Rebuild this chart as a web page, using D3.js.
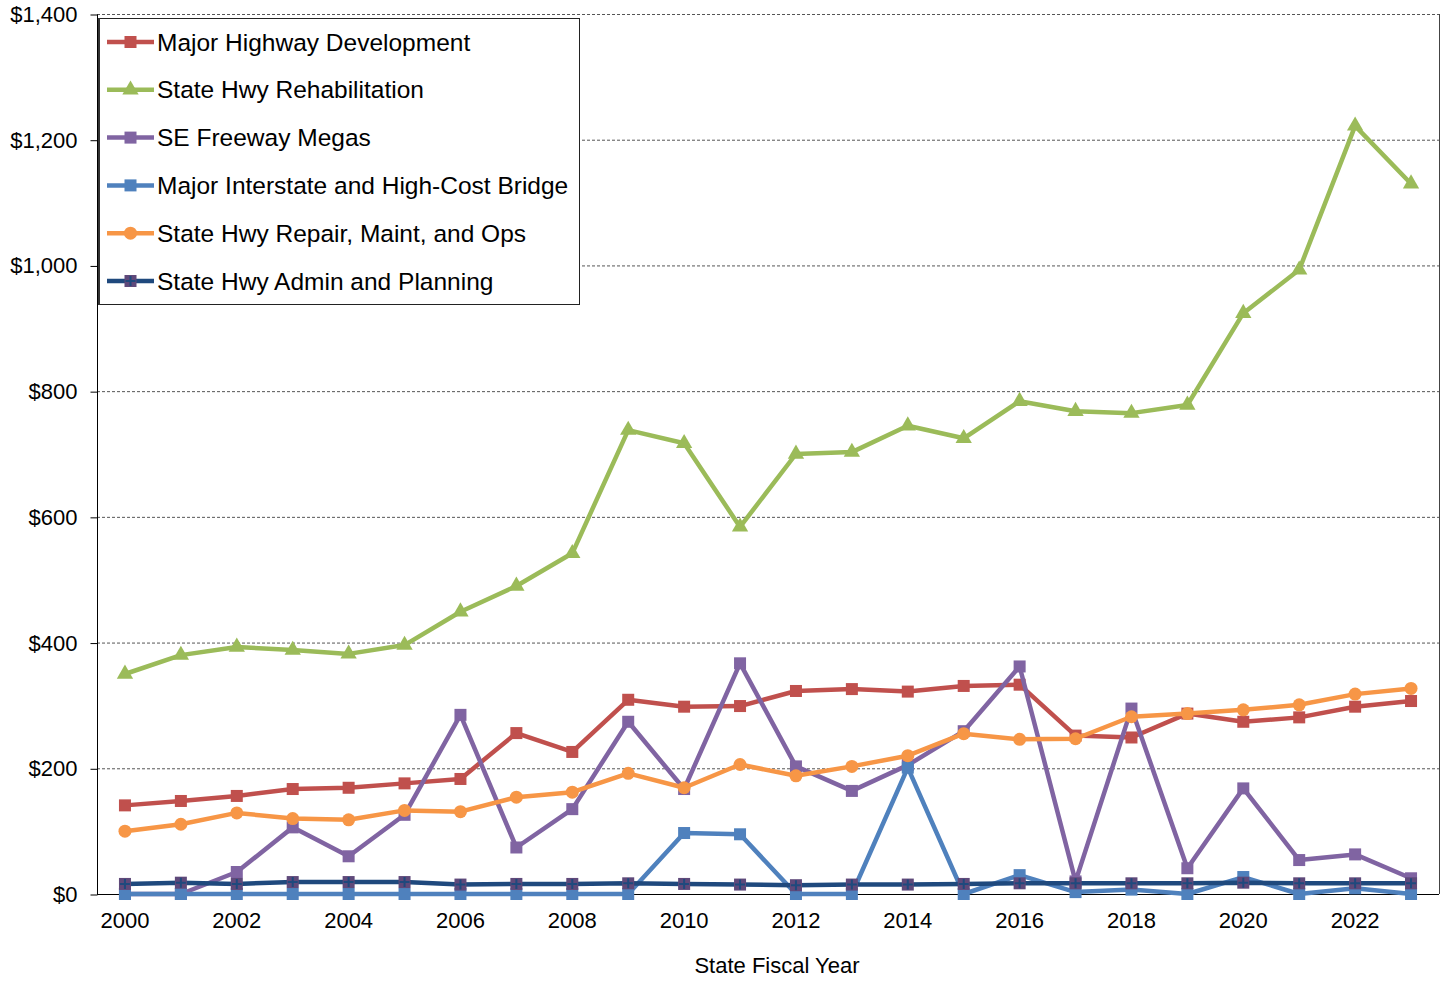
<!DOCTYPE html>
<html>
<head>
<meta charset="utf-8">
<script src="https://cdn.jsdelivr.net/npm/d3@7"></script>
<style>
  html, body { margin: 0; padding: 0; background: #fff; }
  svg { display: block; }
  text { font-family: "Liberation Sans", Arial, sans-serif; fill: #000; }
</style>
</head>
<body>
<svg id="chart" width="1447" height="981"></svg>
<script>
const years = [2000,2001,2002,2003,2004,2005,2006,2007,2008,2009,2010,2011,2012,2013,2014,2015,2016,2017,2018,2019,2020,2021,2022,2023];
const yTicks = [0,200,400,600,800,1000,1200,1400];
const xTickLabels = [2000,2002,2004,2006,2008,2010,2012,2014,2016,2018,2020,2022];

const majorHighwayDev = [141,148,156,167,169,176,183,256,226,309,298,299,323,326,322,331,333,252,249,287,274,281,298,307];
const stateHwyRehab   = [350,380,393,388,382,396,449,490,542,738,717,584,700,703,745,725,784,768,765,778,924,993,1222,1130];
const seFreewayMegas  = [0,0,35,106,60,126,285,74,135,274,167,367,203,164,205,259,362,20,295,41,168,54,63,25];
const majorInterstate = [0,0,0,0,0,0,0,0,0,0,97,95,0,0,201,0,30,3,7,0,27,0,9,0];
const repairMaintOps  = [100,111,129,120,118,133,131,154,162,192,169,206,188,203,220,255,246,247,282,287,293,301,318,327];
const adminPlanning   = [16,18,16,19,19,19,15,16,16,17,16,15,14,15,15,16,17,17,17,17,18,17,17,17];

const seriesNames = ["Major Highway Development","State Hwy Rehabilitation","SE Freeway Megas","Major Interstate and High-Cost Bridge","State Hwy Repair, Maint, and Ops","State Hwy Admin and Planning"];
const seriesValues = [majorHighwayDev, stateHwyRehab, seFreewayMegas, majorInterstate, repairMaintOps, adminPlanning];
const seriesColors = ["#C0504D","#9BBB59","#8064A2","#4F81BD","#F79646","#1F497D"];
const seriesMarkers = ["square","triangle","square","square","circle","squareplus"];

const svg = d3.select("#chart");
const L = 97, R = 1439, T = 14, B = 894;

const x = d3.scaleBand().domain(years).range([L, R]).padding(0);
const cx = d => x(d) + x.bandwidth() / 2;
const y = d3.scaleLinear().domain([0, 1400]).range([B, T]);

// gridlines
svg.append("g").selectAll("line").data(yTicks.filter(v => v > 0)).join("line")
  .attr("x1", L).attr("x2", R)
  .attr("y1", d => y(d) + 0.5).attr("y2", d => y(d) + 0.5)
  .attr("stroke", "#555").attr("stroke-width", 1).attr("stroke-dasharray", "3,2");

// right border
svg.append("line").attr("x1", R + 0.5).attr("x2", R + 0.5).attr("y1", T).attr("y2", B)
  .attr("stroke", "#444").attr("stroke-width", 1);

// y axis
const yAxis = d3.axisLeft(y).tickValues(yTicks).tickSize(7).tickPadding(13)
  .tickFormat(d => "$" + d3.format(",")(d));
const gy = svg.append("g").attr("transform", `translate(${L + 0.5},0.5)`).call(yAxis);
gy.selectAll("text").style("font-size", "22px").style("font-family", "Liberation Sans, Arial, sans-serif").attr("fill", "#000");
gy.selectAll("line").attr("stroke", "#000");
gy.select(".domain").attr("stroke", "#000").attr("d", `M0,${T}V${B}`);

// x axis
const xAxis = d3.axisBottom(x).tickValues(xTickLabels).tickSize(0).tickPadding(18);
const gx = svg.append("g").attr("transform", `translate(0,${B + 0.5})`).call(xAxis);
gx.selectAll("text").style("font-size", "22px").style("font-family", "Liberation Sans, Arial, sans-serif").attr("fill", "#000");
gx.select(".domain").attr("stroke", "#000").attr("d", `M${L},0H${R}`);

// axis title
svg.append("text").attr("x", 777).attr("y", 973).attr("text-anchor", "middle")
  .style("font-size", "22px").text("State Fiscal Year");

// marker drawing
function drawMarker(g, type, color, px, py) {
  if (type === "square") {
    g.append("rect").attr("x", px - 6).attr("y", py - 6).attr("width", 12).attr("height", 12).attr("fill", color);
  } else if (type === "triangle") {
    g.append("path").attr("d", d3.symbol(d3.symbolTriangle, 115)()).attr("transform", `translate(${px},${py})`).attr("fill", color);
  } else if (type === "circle") {
    g.append("circle").attr("cx", px).attr("cy", py).attr("r", 6.5).attr("fill", color);
  } else if (type === "squareplus") {
    g.append("rect").attr("x", px - 6).attr("y", py - 6).attr("width", 12).attr("height", 12).attr("fill", "#5F497A");
    g.append("path").attr("d", `M${px - 5},${py}H${px + 5}M${px},${py - 5}V${py + 5}`)
      .attr("stroke", color).attr("stroke-width", 2);
  }
}

const line = d3.line().x((d, i) => cx(years[i])).y(d => y(d));

seriesValues.forEach((vals, si) => {
  const g = svg.append("g");
  g.append("path").datum(vals).attr("d", line).attr("fill", "none")
    .attr("stroke", seriesColors[si]).attr("stroke-width", 4.5).attr("stroke-linejoin", "round");
  vals.forEach((v, i) => drawMarker(g, seriesMarkers[si], seriesColors[si], cx(years[i]), y(v)));
});

// legend
const lg = svg.append("g");
lg.append("rect").attr("x", 98.5).attr("y", 18.5).attr("width", 481).attr("height", 286)
  .attr("fill", "#fff").attr("stroke", "#222").attr("stroke-width", 1);
lg.append("line").attr("x1", 99).attr("x2", 99).attr("y1", 18).attr("y2", 305).attr("stroke", "#333").attr("stroke-width", 2);
seriesNames.forEach((name, si) => {
  const cy = 42 + si * 47.8;
  lg.append("line").attr("x1", 107).attr("x2", 154).attr("y1", cy).attr("y2", cy)
    .attr("stroke", seriesColors[si]).attr("stroke-width", 4.5);
  drawMarker(lg, seriesMarkers[si], seriesColors[si], 130.5, cy);
  lg.append("text").attr("x", 157).attr("y", cy + 8.6).style("font-size", "24.5px").text(name);
});
</script>
</body>
</html>
